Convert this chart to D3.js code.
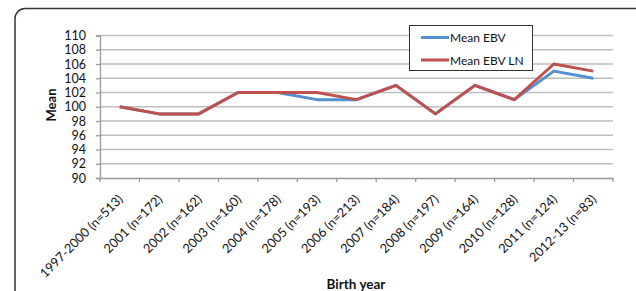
<!DOCTYPE html>
<html><head><meta charset="utf-8">
<script src="https://cdn.jsdelivr.net/npm/d3@7"></script>
<style>body{margin:0;background:#fff;}svg{display:block;font-family:Lato,"Open Sans",sans-serif;}</style>
</head><body>
<svg id="c" width="636" height="291"></svg>
<script>
const categories = ["1997-2000 (n=513)","2001 (n=172)","2002 (n=162)","2003 (n=160)","2004 (n=178)","2005 (n=193)","2006 (n=213)","2007 (n=184)","2008 (n=197)","2009 (n=164)","2010 (n=128)","2011 (n=124)","2012-13 (n=83)"];
const meanEBV   = [100, 99, 99, 102, 102, 101, 101, 103, 99, 103, 101, 105, 104];
const meanEBVLN = [100, 99, 99, 102, 102, 102, 101, 103, 99, 103, 101, 106, 105];
const yTicks = [90,92,94,96,98,100,102,104,106,108,110];
const seriesNames = ["Mean EBV","Mean EBV LN"];
const colors = ["#5290d0","#c0504d"];

const svg = d3.select("#c");
// outer rounded frame
svg.append("rect").attr("x",15).attr("y",8.5).attr("width",630).attr("height",320)
  .attr("rx",10).attr("fill","none").attr("stroke","#333").attr("stroke-width",1.5);

const x0 = 100, x1 = 613, yTop = 35.5, yBot = 178;
const x = d3.scaleBand().domain(categories).range([x0, x1]);
const y = d3.scaleLinear().domain([90,110]).range([yBot, yTop]);

// gridlines
svg.append("g").selectAll("line").data(yTicks.filter(d=>d>90)).join("line")
  .attr("x1",x0).attr("x2",x1).attr("y1",d=>y(d)).attr("y2",d=>y(d))
  .attr("stroke","#bdbdbd").attr("stroke-width",1.3);

// y axis
const ya = svg.append("g").attr("transform",`translate(${x0},0)`)
  .call(d3.axisLeft(y).tickValues(yTicks).tickSize(4).tickPadding(10));
ya.select(".domain").attr("stroke","#999").attr("stroke-width",1.3);
ya.selectAll(".tick line").attr("stroke","#999").attr("stroke-width",1.3);
ya.selectAll("text").attr("font-size",12.5).attr("fill","#111").attr("font-family","Lato, sans-serif");

// x axis
const xa = svg.append("g").attr("transform",`translate(0,${yBot})`)
  .call(d3.axisBottom(x).tickSize(0).tickFormat(""));
xa.select(".domain").attr("stroke","#999").attr("stroke-width",1.3);
xa.selectAll(".tick").remove();
// ticks at band boundaries
const bounds = categories.map(c=>x(c)).concat([x1]);
svg.append("g").selectAll("line").data(bounds).join("line")
  .attr("x1",d=>d).attr("x2",d=>d).attr("y1",yBot).attr("y2",yBot+4)
  .attr("stroke","#999").attr("stroke-width",1.3);
// x labels
svg.append("g").selectAll("text").data(categories).join("text")
  .attr("transform",d=>`translate(${x(d)+x.bandwidth()/2+4},${yBot+22}) rotate(-45)`)
  .attr("text-anchor","end").attr("font-size",12.8).attr("fill","#111").text(d=>d);

// lines
const line = d3.line().x((d,i)=>x(categories[i])+x.bandwidth()/2).y(d=>y(d));
[meanEBV, meanEBVLN].forEach((s,k)=>{
  svg.append("path").datum(s).attr("d",line).attr("fill","none")
    .attr("stroke",colors[k]).attr("stroke-width",3).attr("stroke-linejoin","round");
});

// axis titles
svg.append("text").attr("transform","translate(55.5,105) rotate(-90)").attr("text-anchor","middle")
  .attr("font-weight","bold").attr("font-size",13).attr("fill","#111").text("Mean");
svg.append("text").attr("x",356).attr("y",289).attr("text-anchor","middle")
  .attr("font-weight","bold").attr("font-size",13.5).attr("fill","#111").text("Birth year");

// legend
const lg = svg.append("g");
lg.append("rect").attr("x",409.5).attr("y",25.5).attr("width",123).attr("height",45)
  .attr("fill","#fff").attr("stroke","#333").attr("stroke-width",1);
seriesNames.forEach((n,k)=>{
  const ly = 37.5 + k*22.5;
  lg.append("line").attr("x1",421).attr("x2",449).attr("y1",ly).attr("y2",ly)
    .attr("stroke",colors[k]).attr("stroke-width",3);
  lg.append("text").attr("x",450).attr("y",ly+4.5).attr("font-size",12).attr("fill","#111").text(n);
});
</script>
</body></html>
